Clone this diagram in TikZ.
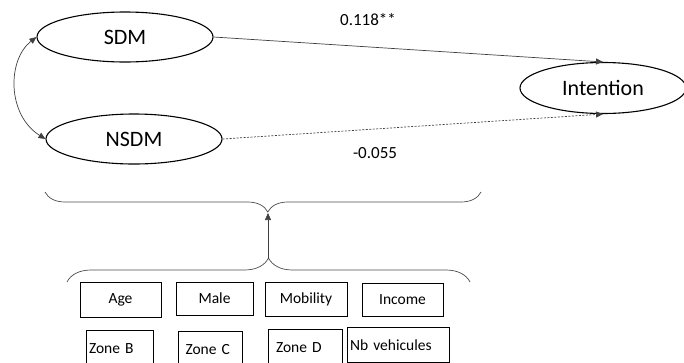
\documentclass[tikz,border=0pt]{standalone}
\usepackage{fontspec}
\setmainfont{Carlito}
\usetikzlibrary{shapes.geometric,arrows.meta,decorations.pathreplacing}

\begin{document}
\begin{tikzpicture}[x=1pt, y=-1pt, >={Triangle[length=7pt,width=6pt]},
    latent/.style={ellipse, draw, line width=1.1pt, minimum width=176pt, minimum height=50pt, font=\fontsize{22}{26}\selectfont},
    varbox/.style={draw, line width=1pt, font=\fontsize{15.5}{18}\selectfont},
    zonebox/.style={varbox, anchor=north west, align=left, inner xsep=2.5pt, minimum height=36pt},
    coef/.style={font=\fontsize{17}{20}\selectfont},
    link/.style={black!75, line width=0.7pt},
    bracepath/.style={draw=black!70, line width=0.7pt, decorate}]
    \useasboundingbox (0,0) rectangle (684,362);

    \node[latent] (sdm) at (125,37) {SDM};
    \node[latent] (nsdm) at (134,139) {NSDM};
    \node[latent, minimum width=166pt, minimum height=51pt] (intention) at (603,88) {Intention};

    \draw[link, ->] (sdm.east) -- (intention.north);
    \draw[link, dash pattern=on 2pt off 1.5pt, ->] (nsdm.east) -- (intention.south);
    \draw[link, <->] (sdm.west) .. controls (7,60) and (7,115) .. (nsdm.west);

    \node[coef] (c118) at (368,20) {0.118**};
    \node[coef] (c055) at (375,153) {-0.055};

    % braces and the arrow between them
    \draw[bracepath, decoration={brace, amplitude=20pt, aspect=0.489}] (481,192) -- (45,192);
    \draw[bracepath, decoration={brace, amplitude=24pt, aspect=0.5}] (67,282) -- (470,282);
    \coordinate (topcusp) at (268,213);
    \coordinate (botcusp) at (268,258);
    \draw[link, ->] (botcusp) -- (topcusp);

    % control variables
    \node[varbox, minimum width=81pt, minimum height=35pt] (age) at (120.5,299.5) {Age};
    \node[varbox, minimum width=77pt, minimum height=33pt] (male) at (214.5,298.5) {Male};
    \node[varbox, minimum width=82pt, minimum height=34pt] (mobility) at (306,299) {Mobility};
    \node[varbox, minimum width=81pt, minimum height=33pt] (income) at (402.5,299.5) {Income};

    \node[zonebox, text width=62pt] (zoneb) at (86,330) {Zone B};
    \node[zonebox, inner xsep=7pt, text width=50pt] (zonec) at (178,331) {Zone C};
    \node[zonebox, inner xsep=7.5pt, text width=59pt] (zoned) at (268,329) {Zone D};
    \node[zonebox, text width=97pt, minimum height=35pt] (nbveh) at (347,327) {Nb vehicules};
\end{tikzpicture}
\end{document}
